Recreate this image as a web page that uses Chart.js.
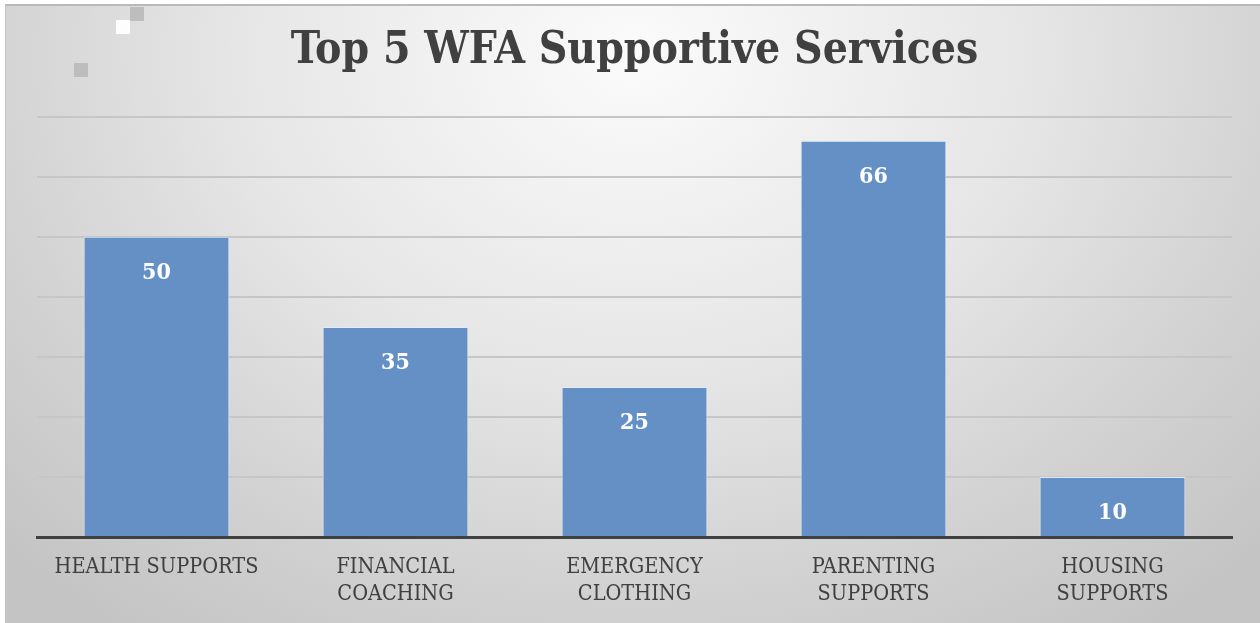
<!DOCTYPE html>
<html>
<head>
<meta charset="utf-8">
<script src="https://cdn.jsdelivr.net/npm/chart.js@4"></script>
<style>
  html, body { margin: 0; padding: 0; background: #fff; }
  #frame {
    position: absolute; left: 5px; top: 4px; width: 1255px; height: 619px;
    border-top: 2px solid #b9b9b9; border-left: 1px solid #c4c4c4;
    box-sizing: border-box;
    background: radial-gradient(ellipse 70% 115% at 50% 8%, #fbfbfb 0%, #e6e6e6 45%, #d2d2d2 75%, #c4c4c4 100%);
  }
  .sq { position: absolute; width: 14px; height: 14px; }
  canvas { position: absolute; left: 0; top: 0; }
</style>
</head>
<body>
<div id="frame"></div>
<div class="sq" style="left:130px;top:7px;background:#bdbdbd"></div>
<div class="sq" style="left:116px;top:20px;background:#fdfdfd"></div>
<div class="sq" style="left:74px;top:63px;background:#bdbdbd"></div>
<canvas id="chart" width="1260" height="623"></canvas>
<script>
// chart data
const titleText = 'Top 5 WFA Supportive Services';
const categories = [
    ['HEALTH SUPPORTS'],
    ['FINANCIAL', 'COACHING'],
    ['EMERGENCY', 'CLOTHING'],
    ['PARENTING', 'SUPPORTS'],
    ['HOUSING', 'SUPPORTS']
];
const counts = [50, 35, 25, 66, 10];
const yMax = 70;
const yStep = 10;

const serif = "'DejaVu Serif Condensed', 'DejaVu Serif', serif";
const textGray = '#404040';

// writes each bar's value inside the top of the bar
const valueLabels = {
    id: 'valueLabels',
    afterDatasetsDraw(chart) {
        const ctx = chart.ctx;
        const meta = chart.getDatasetMeta(0);
        ctx.save();
        ctx.font = 'bold 23px ' + serif;
        ctx.fillStyle = '#ffffff';
        ctx.textAlign = 'center';
        ctx.textBaseline = 'middle';
        meta.data.forEach((bar, i) => {
            ctx.fillText(String(counts[i]), bar.x, bar.y + 36);
        });
        ctx.restore();
    }
};

new Chart(document.getElementById('chart'), {
    type: 'bar',
    data: {
        labels: categories,
        datasets: [{
            data: counts,
            backgroundColor: '#6590c5',
            borderColor: 'rgba(225,235,248,0.9)',
            borderWidth: 1,
            categoryPercentage: 1,
            barPercentage: 0.61
        }]
    },
    options: {
        responsive: false,
        animation: false,
        layout: { padding: { left: 37, right: 28, top: 0, bottom: 0 } },
        plugins: {
            legend: { display: false },
            tooltip: { enabled: false },
            title: {
                display: true,
                text: titleText,
                color: textGray,
                font: { family: serif, size: 44, weight: 'bold', lineHeight: 1.2 },
                padding: { top: 25, bottom: 39 }
            }
        },
        scales: {
            x: {
                grid: { display: false, drawTicks: false },
                border: { display: true, color: '#404040', width: 3 },
                ticks: {
                    color: textGray,
                    font: { family: serif, size: 21.5, lineHeight: 1.25 },
                    padding: 17,
                    maxRotation: 0,
                    autoSkip: false
                },
                afterFit(scale) { scale.height = 86; }
            },
            y: {
                min: 0,
                max: yMax,
                ticks: { display: false, stepSize: yStep },
                grid: { color: '#c6c6c6', lineWidth: 2, drawTicks: false },
                border: { display: false },
                afterFit(scale) { scale.width = 0; }
            }
        }
    },
    plugins: [valueLabels]
});
</script>
</body>
</html>
